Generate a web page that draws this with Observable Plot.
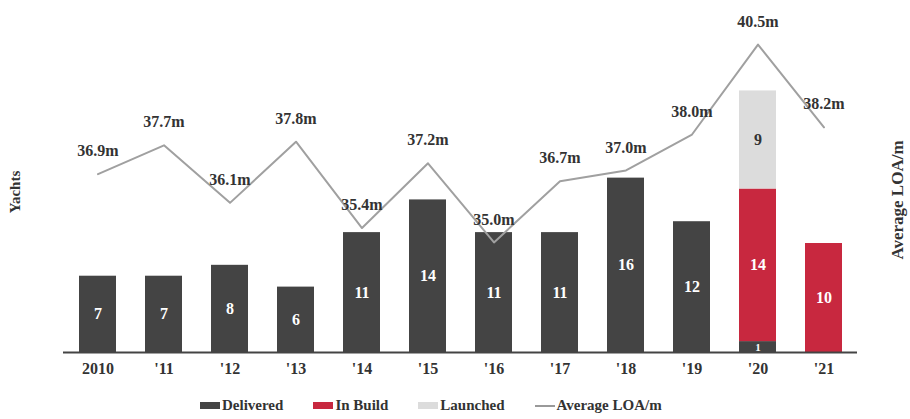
<!DOCTYPE html>
<html><head><meta charset="utf-8">
<script src="https://cdn.jsdelivr.net/npm/d3@7"></script>
<script src="https://cdn.jsdelivr.net/npm/@observablehq/plot@0.6"></script>
<style>
body{margin:0;background:#fff;font-family:"Liberation Serif","DejaVu Serif",serif;}
#wrap{position:relative;width:910px;height:419px;overflow:hidden;}
.ylab{position:absolute;font-weight:bold;color:#333;white-space:nowrap;transform-origin:center;font-family:"Liberation Serif","DejaVu Serif",serif;line-height:20px;}
#legend{position:absolute;top:397px;left:200px;display:flex;align-items:center;font-size:15px;font-weight:bold;color:#333;font-family:"Liberation Serif","DejaVu Serif",serif;}
#legend span.item{display:flex;align-items:center;margin-right:30px;}
#legend i{display:inline-block;width:20px;height:7px;margin-right:2px;}
svg text{font-family:"Liberation Serif","DejaVu Serif",serif;}
</style></head>
<body><div id="wrap"><div id="chart"></div>
<div class="ylab" style="left:-6px;top:182px;font-size:15px;transform:rotate(-90deg);">Yachts</div>
<div class="ylab" style="left:838px;top:190px;font-size:17px;transform:rotate(-90deg);">Average LOA/m</div>
<div id="legend">
<span class="item"><i style="background:#444"></i>Delivered</span>
<span class="item"><i style="background:#c8283f"></i>In Build</span>
<span class="item"><i style="background:#dcdcdc"></i>Launched</span>
<span class="item"><i style="background:#999;height:2px"></i>Average LOA/m</span>
</div></div>
<script>
const years = ["2010","'11","'12","'13","'14","'15","'16","'17","'18","'19","'20","'21"];
const delivered = [7,7,8,6,11,14,11,11,16,12,1,0];
const inBuild   = [0,0,0,0,0,0,0,0,0,0,14,10];
const launched  = [0,0,0,0,0,0,0,0,0,0,9,0];
const avgLOA    = [36.9,37.7,36.1,37.8,35.4,37.2,35.0,36.7,37.0,38.0,40.5,38.2];
const seriesNames = ["Delivered","In Build","Launched"];
const seriesColors = ["#444444","#c8283f","#dcdcdc"];
const labelColors = ["#ffffff","#ffffff","#333333"];
const FONT = "Liberation Serif, DejaVu Serif, serif";

const long = [];
years.forEach((yr,i)=>{
  [delivered,inBuild,launched].forEach((arr,s)=>{
    if(arr[i]>0) long.push({year:yr, series:seriesNames[s], value:arr[i], lc:labelColors[s]});
  });
});
// map LOA metres into the bar (yacht) scale space
const loaToY = v => 10.1 + (v - 35) * 3.3;
const line = years.map((yr,i)=>({year:yr, v:avgLOA[i], y:loaToY(avgLOA[i])}));

const chart = Plot.plot({
  width:910, height:385,
  marginLeft:63, marginRight:53, marginTop:10, marginBottom:33,
  style:{fontFamily:FONT, fontSize:"15px", color:"#333", background:"#fff"},
  x:{domain:years, paddingInner:0.44, paddingOuter:0.22, label:null},
  y:{domain:[0,31.38], axis:null},
  color:{domain:seriesNames, range:seriesColors},
  marks:[
    Plot.barY(long, Plot.stackY({x:"year", y:"value", fill:"series", order:seriesNames})),
    Plot.text(long, Plot.stackY({x:"year", y:"value", z:"series", order:seriesNames, text:d=>String(d.value), fill:"lc", fontWeight:"bold", fontSize:d=>d.value<2?11:16, fontFamily:FONT})),
    Plot.ruleY([0], {stroke:"#444", strokeWidth:2}),
    Plot.line(line, {x:"year", y:"y", stroke:"#a0a0a0", strokeWidth:2}),
    Plot.text(line, {x:"year", y:"y", text:d=>d.v.toFixed(1)+"m", dy:-23, fill:"#333", fontWeight:"bold", fontSize:16, fontFamily:FONT}),
    Plot.axisX({tickSize:0, tickPadding:10, fontWeight:"bold", fontSize:16, fill:"#333", label:null, fontFamily:FONT})
  ]
});
document.getElementById("chart").appendChild(chart);
</script></body></html>
